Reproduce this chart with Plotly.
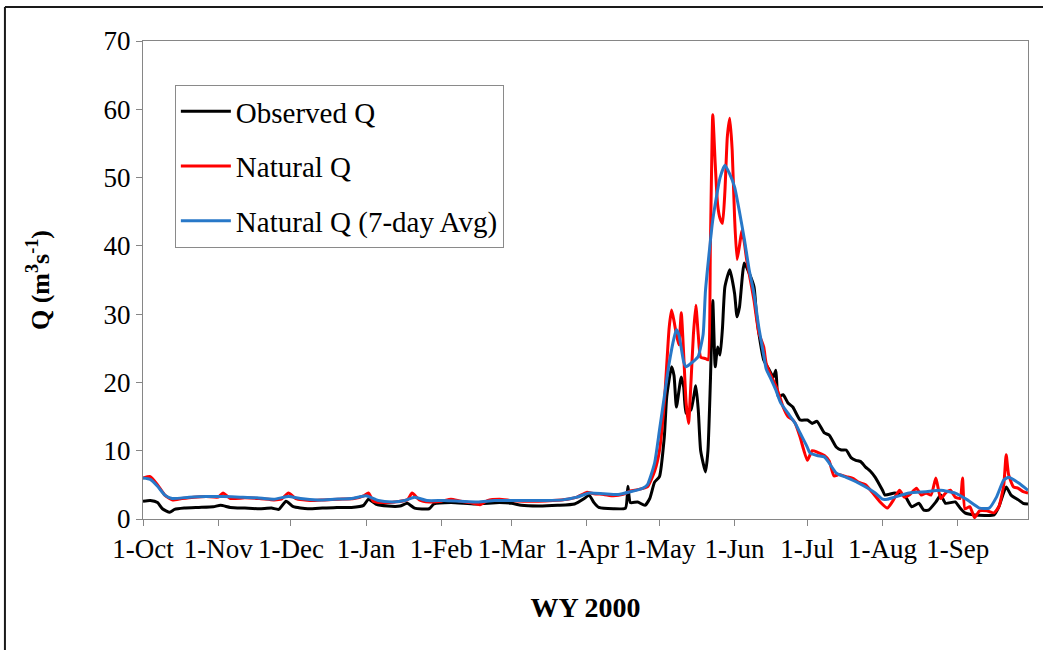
import plotly.graph_objects as go

# ---------------- data (WY 2000: 1 Oct 1999 - 30 Sep 2000) ----------------
obs_dates = ["1999-10-01","1999-10-04","1999-10-07","1999-10-09","1999-10-12","1999-10-14","1999-10-18",
             "1999-10-24","1999-10-30","1999-11-02","1999-11-06","1999-11-12","1999-11-18","1999-11-23",
             "1999-11-26","1999-11-29","1999-12-02","1999-12-08","1999-12-14","1999-12-20","1999-12-26",
             "1999-12-31","2000-01-02","2000-01-05","2000-01-10","2000-01-15","2000-01-18","2000-01-21",
             "2000-01-27","2000-01-29","2000-02-05","2000-02-15","2000-02-25","2000-03-01","2000-03-05",
             "2000-03-12","2000-03-20","2000-03-27","2000-03-31","2000-04-02","2000-04-04","2000-04-06",
             "2000-04-12","2000-04-17","2000-04-18","2000-04-19","2000-04-22","2000-04-25","2000-04-27",
             "2000-04-29","2000-05-01","2000-05-03","2000-05-04","2000-05-06","2000-05-07","2000-05-08",
             "2000-05-10","2000-05-11","2000-05-12","2000-05-14","2000-05-16","2000-05-17","2000-05-18",
             "2000-05-20","2000-05-21","2000-05-22","2000-05-23","2000-05-24","2000-05-25","2000-05-26",
             "2000-05-27","2000-05-28","2000-05-30","2000-06-01","2000-06-02","2000-06-03","2000-06-05",
             "2000-06-07","2000-06-09","2000-06-10","2000-06-11","2000-06-13","2000-06-15","2000-06-17",
             "2000-06-18","2000-06-19","2000-06-21","2000-06-23","2000-06-25","2000-06-28","2000-07-01",
             "2000-07-03","2000-07-05","2000-07-08","2000-07-10","2000-07-13","2000-07-15","2000-07-17",
             "2000-07-19","2000-07-21","2000-07-23","2000-07-25","2000-07-27","2000-07-29","2000-08-01",
             "2000-08-02","2000-08-06","2000-08-10","2000-08-13","2000-08-16","2000-08-18","2000-08-20",
             "2000-08-23","2000-08-25","2000-08-27","2000-08-31","2000-09-02","2000-09-04","2000-09-08",
             "2000-09-16","2000-09-18","2000-09-21","2000-09-23","2000-09-26","2000-09-28","2000-09-30"]
obs_q = [2.6, 2.7, 2.4, 1.5, 1.0, 1.4, 1.6,
         1.7, 1.8, 2.0, 1.7, 1.6, 1.5, 1.6,
         1.4, 2.6, 1.8, 1.5, 1.6, 1.7, 1.7,
         2.0, 2.9, 2.2, 1.9, 1.9, 2.3, 1.6,
         1.5, 2.2, 2.4, 2.2, 2.4, 2.3, 2.0,
         1.9, 2.0, 2.2, 3.0, 3.5, 2.4, 1.7,
         1.5, 1.6, 4.8, 2.4, 2.5, 2.0, 3.0,
         5.4, 6.2, 12.0, 17.9, 22.3, 21.0, 16.4,
         20.8, 19.3, 15.5, 16.0, 19.5, 16.0, 10.0,
         6.9, 10.0, 20.0, 32.0, 22.3, 25.2, 24.0,
         28.0, 34.0, 36.5, 33.0, 29.6, 31.0, 37.5,
         36.0, 34.0, 30.0, 27.2, 23.3, 22.0, 20.8,
         21.8, 17.9, 18.2, 17.0, 16.4, 14.5, 14.5,
         14.0, 14.3, 12.6, 12.3, 10.5, 10.1, 10.1,
         9.0, 8.6, 8.4, 7.6, 7.0, 6.1, 4.2,
         3.5, 3.8, 3.5, 1.8, 2.3, 1.3, 1.3,
         2.5, 3.5, 2.3, 2.5, 1.6, 0.9, 0.6,
         0.6, 1.8, 4.7, 3.5, 2.8, 2.3, 2.2]

nat_dates = ["1999-10-01","1999-10-04","1999-10-07","1999-10-10","1999-10-13","1999-10-17","1999-10-22",
             "1999-10-27","1999-11-01","1999-11-03","1999-11-06","1999-11-12","1999-11-18","1999-11-24",
             "1999-11-27","1999-11-30","1999-12-03","1999-12-09","1999-12-15","1999-12-21","1999-12-27",
             "1999-12-31","2000-01-02","2000-01-04","2000-01-08","2000-01-13","2000-01-18","2000-01-20",
             "2000-01-23","2000-01-27","2000-02-01","2000-02-05","2000-02-09","2000-02-13","2000-02-17",
             "2000-02-20","2000-02-25","2000-03-01","2000-03-06","2000-03-12","2000-03-18","2000-03-24",
             "2000-03-28","2000-04-01","2000-04-04","2000-04-08","2000-04-12","2000-04-16","2000-04-19",
             "2000-04-22","2000-04-26","2000-04-29","2000-05-01","2000-05-03","2000-05-05","2000-05-06",
             "2000-05-07","2000-05-08","2000-05-09","2000-05-10","2000-05-11","2000-05-12","2000-05-13",
             "2000-05-14","2000-05-15","2000-05-16","2000-05-17","2000-05-18","2000-05-20","2000-05-21",
             "2000-05-22","2000-05-23","2000-05-24","2000-05-25","2000-05-26","2000-05-27","2000-05-28",
             "2000-05-29","2000-05-30","2000-05-31","2000-06-01","2000-06-02","2000-06-03","2000-06-04",
             "2000-06-05","2000-06-06","2000-06-08","2000-06-09","2000-06-11","2000-06-13","2000-06-14",
             "2000-06-16","2000-06-18","2000-06-20","2000-06-21","2000-06-23","2000-06-25","2000-06-26",
             "2000-06-28","2000-07-01","2000-07-03","2000-07-05","2000-07-08","2000-07-10","2000-07-12",
             "2000-07-14","2000-07-17","2000-07-20","2000-07-22","2000-07-25","2000-07-28","2000-07-31",
             "2000-08-03","2000-08-05","2000-08-08","2000-08-10","2000-08-12","2000-08-15","2000-08-17",
             "2000-08-19","2000-08-21","2000-08-23","2000-08-25","2000-08-27","2000-08-29","2000-08-31",
             "2000-09-02","2000-09-03","2000-09-04","2000-09-06","2000-09-08","2000-09-10","2000-09-13",
             "2000-09-16","2000-09-18","2000-09-20","2000-09-21","2000-09-22","2000-09-24","2000-09-26",
             "2000-09-28","2000-09-30"]
nat_q = [6.0, 6.2, 5.0, 3.5, 2.8, 3.0, 3.2,
         3.3, 3.2, 3.8, 3.0, 3.1, 3.0, 2.8,
         2.9, 3.8, 3.0, 2.7, 2.8, 2.9, 3.0,
         3.4, 3.8, 2.6, 2.4, 2.5, 2.8, 3.8,
         2.8, 2.5, 2.6, 2.9, 2.6, 2.4, 2.1,
         2.7, 2.9, 2.7, 2.6, 2.6, 2.7, 2.9,
         3.2, 3.9, 3.7, 3.6, 3.4, 3.6, 4.1,
         4.3, 4.7, 7.0, 10.0, 17.0, 28.0, 30.6,
         29.0, 27.0, 25.5, 30.2, 24.0, 17.0, 14.0,
         20.0, 27.0, 31.3, 27.0, 23.7, 23.5, 23.3,
         40.0, 59.2, 52.0, 46.0, 44.0, 43.3, 48.0,
         56.0, 58.7, 54.0, 44.0, 38.0, 40.0, 42.3,
         40.5, 37.9, 34.0, 32.0, 27.2, 25.2, 22.8,
         21.0, 19.5, 17.5, 16.4, 15.0, 14.5, 14.0,
         12.0, 8.6, 10.0, 9.8, 9.3, 8.5, 6.3,
         6.5, 6.2, 5.9, 5.4, 5.0, 3.8, 2.5,
         1.6, 2.5, 4.2, 3.2, 3.5, 4.5, 3.5,
         3.8, 3.5, 6.0, 3.0, 3.8, 4.2, 3.2,
         3.0, 6.0, 1.5, 1.8, 0.2, 1.2, 1.2,
         0.9, 1.8, 5.0, 9.4, 6.5, 4.7, 4.5,
         4.0, 3.8]

avg_dates = ["1999-10-01","1999-10-04","1999-10-07","1999-10-10","1999-10-13","1999-10-20","1999-10-27",
             "1999-11-03","1999-11-10","1999-11-17","1999-11-24","1999-11-30","1999-12-05","1999-12-12",
             "1999-12-19","1999-12-26","2000-01-01","2000-01-06","2000-01-12","2000-01-17","2000-01-21",
             "2000-01-26","2000-02-02","2000-02-09","2000-02-16","2000-02-23","2000-03-01","2000-03-08",
             "2000-03-15","2000-03-22","2000-03-28","2000-04-02","2000-04-08","2000-04-14","2000-04-19",
             "2000-04-24","2000-04-26","2000-04-29","2000-05-01","2000-05-03","2000-05-05","2000-05-07",
             "2000-05-08","2000-05-09","2000-05-11","2000-05-12","2000-05-14","2000-05-16","2000-05-17",
             "2000-05-19","2000-05-20","2000-05-23","2000-05-26","2000-05-28","2000-05-30","2000-06-01",
             "2000-06-03","2000-06-05","2000-06-07","2000-06-09","2000-06-11","2000-06-13","2000-06-14",
             "2000-06-16","2000-06-18","2000-06-20","2000-06-23","2000-06-26","2000-06-28","2000-07-01",
             "2000-07-02","2000-07-05","2000-07-08","2000-07-10","2000-07-13","2000-07-17","2000-07-22",
             "2000-07-26","2000-07-29","2000-08-01","2000-08-03","2000-08-06","2000-08-12","2000-08-19",
             "2000-08-25","2000-08-31","2000-09-05","2000-09-10","2000-09-14","2000-09-17","2000-09-20",
             "2000-09-22","2000-09-26","2000-09-30"]
avg_q = [6.0, 5.8, 4.8, 3.5, 3.0, 3.2, 3.3,
         3.3, 3.2, 3.1, 2.9, 3.3, 3.0, 2.8,
         2.9, 3.0, 3.4, 2.7, 2.5, 2.7, 3.2,
         2.7, 2.7, 2.6, 2.5, 2.7, 2.7, 2.7,
         2.7, 2.8, 3.2, 3.8, 3.7, 3.6, 4.0,
         4.5, 5.0, 8.2, 13.0, 17.9, 22.8, 26.5,
         27.7, 27.0, 23.0, 22.3, 22.8, 23.4, 23.8,
         27.0, 33.5, 43.8, 50.0, 51.8, 50.5, 48.6,
         45.0, 41.0, 36.5, 33.0, 28.0, 24.0, 22.0,
         20.5, 18.9, 17.0, 15.5, 14.0, 12.6, 10.5,
         9.7, 9.3, 9.1, 8.2, 6.7, 6.1, 5.3,
         4.5, 3.8, 2.9, 2.9, 3.2, 3.8, 4.0,
         4.2, 3.8, 2.8, 1.6, 1.6, 3.2, 5.7,
         6.1, 5.3, 4.2]

tick_dates = ["1999-10-01","1999-11-01","1999-12-01","2000-01-01","2000-02-01","2000-03-01",
              "2000-04-01","2000-05-01","2000-06-01","2000-07-01","2000-08-01","2000-09-01"]
tick_labels = ["1-Oct","1-Nov","1-Dec","1-Jan","1-Feb","1-Mar",
               "1-Apr","1-May","1-Jun","1-Jul","1-Aug","1-Sep"]

# ---------------- figure ----------------
FONT = "Liberation Serif, Times New Roman, serif"
fig = go.Figure()
fig.add_trace(go.Scatter(x=obs_dates, y=obs_q, mode="lines", name="Observed Q",
                         legendgroup="a", line=dict(color="#000000", width=3, shape="spline", smoothing=0.5)))
fig.add_trace(go.Scatter(x=nat_dates, y=nat_q, mode="lines", name="Natural Q",
                         legendgroup="b", line=dict(color="#FF0000", width=3, shape="spline", smoothing=0.5)))
fig.add_trace(go.Scatter(x=avg_dates, y=avg_q, mode="lines", name="Natural Q (7-day Avg)",
                         legendgroup="c", line=dict(color="#2878C8", width=3, shape="spline", smoothing=0.5)))

fig.update_layout(
    width=1043, height=650,
    margin=dict(l=143, r=15, t=41, b=131),
    paper_bgcolor="white", plot_bgcolor="white",
    font=dict(family=FONT, size=26, color="#000000"),
    showlegend=True,
    legend=dict(x=0.036, y=0.908, xanchor="left", yanchor="top",
                bordercolor="#8A8A8A", borderwidth=1, bgcolor="white",
                font=dict(family=FONT, size=29, color="#000000"),
                traceorder="grouped", tracegroupgap=14, itemwidth=50),
    xaxis=dict(type="date", range=["1999-10-01", "2000-09-30"],
               tickvals=tick_dates, ticktext=tick_labels,
               ticks="outside", ticklen=6, tickcolor="#868686",
               showline=True, linecolor="#868686", linewidth=1, mirror=True,
               showgrid=False, zeroline=False,
               tickfont=dict(family=FONT, size=27, color="#000000"),
               title=dict(text="<b>WY 2000</b>", font=dict(family=FONT, size=28), standoff=33)),
    yaxis=dict(range=[0, 70], dtick=10, tick0=0,
               ticks="outside", ticklen=6, tickcolor="#868686",
               showline=True, linecolor="#868686", linewidth=1, mirror=True,
               showgrid=False, zeroline=False,
               tickfont=dict(family=FONT, size=27, color="#000000"),
               title=dict(text="<b>Q (m<sup>3</sup>s<sup>-1</sup>)</b>", font=dict(family=FONT, size=26), standoff=46)),
    shapes=[
        dict(type="line", xref="paper", yref="paper", x0=-0.156, x1=-0.156, y0=-0.28, y1=1.071,
             line=dict(color="#1A1A1A", width=2)),
        dict(type="line", xref="paper", yref="paper", x0=-0.156, x1=1.02, y0=1.071, y1=1.071,
             line=dict(color="#1A1A1A", width=2)),
    ],
)

fig.write_html("out.html")
